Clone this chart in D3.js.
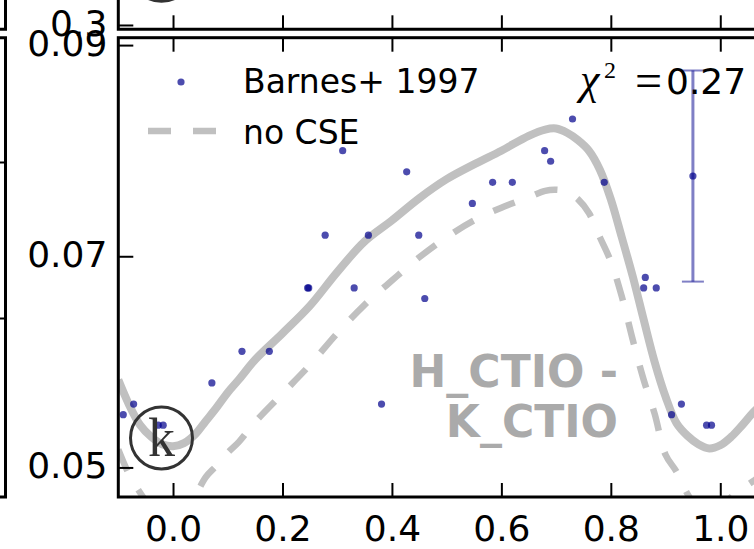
<!DOCTYPE html>
<html>
<head>
<meta charset="utf-8">
<script src="https://cdn.jsdelivr.net/npm/d3@7"></script>
<style>
  body { margin: 0; background: #fff; }
  svg { display: block; }
  .axis text { font-family: "DejaVu Sans"; font-size: 36px; fill: #000; }
  .axis line { stroke: #000; stroke-width: 2; }
  .axis path { display: none; }
</style>
</head>
<body>
<svg id="chart"></svg>
<script>
// observed colours (Barnes+ 1997)
const obsPhase = [-0.091, -0.072, -0.027, -0.018, 0.071, 0.126, 0.176, 0.246, 0.248, 0.278, 0.310,
  0.331, 0.357, 0.381, 0.427, 0.449, 0.460, 0.547, 0.584, 0.620, 0.679, 0.690, 0.730, 0.788,
  0.863, 0.860, 0.883, 0.911, 0.929, 0.975, 0.984];
const obsColor = [0.055, 0.056, 0.054, 0.054, 0.058, 0.061, 0.061, 0.067, 0.067, 0.072, 0.080,
  0.067, 0.072, 0.056, 0.078, 0.072, 0.066, 0.075, 0.077, 0.077, 0.080, 0.079, 0.083, 0.077,
  0.068, 0.067, 0.067, 0.055, 0.056, 0.054, 0.054];

// typical error bar
const errPhase = [0.950];
const errColor = [0.0776];
const errSize = [0.0100];

// model curves
const modelPhase = [-0.10, -0.08, -0.06, -0.04, -0.02, 0.00, 0.02, 0.04, 0.06, 0.08, 0.10, 0.12, 0.15,
  0.20, 0.25, 0.30, 0.35, 0.40, 0.45, 0.50, 0.55, 0.60, 0.65, 0.68, 0.70, 0.72, 0.74, 0.76, 0.78,
  0.80, 0.82, 0.84, 0.86, 0.88, 0.90, 0.92, 0.94, 0.96, 0.98, 1.00, 1.02, 1.04, 1.06, 1.08, 1.10];
const modelCse = [0.0583, 0.0559, 0.0540, 0.0529, 0.0522, 0.0520, 0.0523, 0.0531, 0.0544, 0.0557, 0.0571,
  0.0583, 0.0602, 0.0627, 0.0653, 0.0685, 0.0714, 0.0734, 0.0755, 0.0773, 0.0787, 0.0800, 0.0814,
  0.0820, 0.0821, 0.0817, 0.0810, 0.0800, 0.0782, 0.0754, 0.0718, 0.0681, 0.0640, 0.0600, 0.0567,
  0.0542, 0.0530, 0.0522, 0.0518, 0.0521, 0.0529, 0.0540, 0.0552, 0.0562, 0.0572];
const modelNoCse = [0.0517, 0.0493, 0.0476, 0.0462, 0.0454, 0.0452, 0.0460, 0.0473, 0.0491, 0.0502, 0.0514,
  0.0524, 0.0543, 0.0570, 0.0597, 0.0627, 0.0654, 0.0677, 0.0699, 0.0718, 0.0734, 0.0746, 0.0756,
  0.0762, 0.0763, 0.0761, 0.0754, 0.0741, 0.0718, 0.0695, 0.0662, 0.0621, 0.0583, 0.0551, 0.0512,
  0.0496, 0.0475, 0.0460, 0.0452, 0.0460, 0.0472, 0.0480, 0.0487, 0.0495, 0.0501];

const xTicks = [0.0, 0.2, 0.4, 0.6, 0.8, 1.0];
const yTicks = [0.05, 0.07, 0.09];
const topYTicks = [0.3];
const neighbourTicks = [1, 2];

const chiText = "0.27";
const bandLabel = ["H_CTIO -", "K_CTIO"];

const W = 754, H = 549;
const LEFT = 118.3, TOP = 37.7, BOTTOM = 497, RIGHT = 775; // main panel frame
const TOP_PANEL_BOTTOM = 29.3; // panel above
const NEIGH_RIGHT = 5.5; // panel on the left
const BLUE = "#00008b";
const SILVER = "#c0c0c0";

const svg = d3.select("#chart").attr("width", W).attr("height", H);

const x = d3.scaleLinear().domain([-0.1, 1.1]).range([LEFT, RIGHT]);
const y = d3.scaleLinear().domain([0.0472, 0.0907]).range([BOTTOM, TOP]);
const topY = d3.scaleLinear().domain([0.2953, 0.7953]).range([TOP_PANEL_BOTTOM, TOP_PANEL_BOTTOM - 459]);
const neighY = d3.scaleLinear().domain([0, 3]).range([474, 6]);

svg.append("defs").append("clipPath").attr("id", "plotclip")
  .append("rect").attr("x", LEFT).attr("y", TOP)
  .attr("width", RIGHT - LEFT).attr("height", BOTTOM - TOP);

const plot = svg.append("g").attr("clip-path", "url(#plotclip)");

// model curves
const lineCse = d3.line().x((d, i) => x(modelPhase[i])).y(d => y(d)).curve(d3.curveCatmullRom.alpha(0.5));
plot.append("path").datum(modelCse)
  .attr("d", lineCse).attr("fill", "none")
  .attr("stroke", SILVER).attr("stroke-width", 8);
plot.append("path").datum(modelNoCse)
  .attr("d", lineCse).attr("fill", "none")
  .attr("stroke", SILVER).attr("stroke-width", 6.5)
  .attr("stroke-dasharray", "23,22");

// data points
plot.selectAll(".obs")
  .data(obsPhase)
  .enter().append("circle")
  .attr("class", "obs")
  .attr("cx", d => x(d))
  .attr("cy", (d, i) => y(obsColor[i]))
  .attr("r", 3.6)
  .attr("fill", BLUE).attr("fill-opacity", 0.7);

// error bar
errPhase.forEach((p, i) => {
  const g = plot.append("g").attr("stroke", BLUE).attr("stroke-opacity", 0.5).attr("stroke-width", 3);
  g.append("line").attr("x1", x(p)).attr("x2", x(p))
    .attr("y1", y(errColor[i] - errSize[i])).attr("y2", y(errColor[i] + errSize[i]));
  [errColor[i] - errSize[i], errColor[i] + errSize[i]].forEach(v => {
    g.append("line").attr("x1", x(p) - 11).attr("x2", x(p) + 11)
      .attr("y1", y(v)).attr("y2", y(v)).attr("stroke-width", 2);
  });
  plot.append("circle").attr("cx", x(p)).attr("cy", y(errColor[i])).attr("r", 3.6)
    .attr("fill", BLUE).attr("fill-opacity", 0.7);
});

// axes of main panel
svg.append("g").attr("class", "axis")
  .attr("transform", "translate(" + LEFT + ",0)")
  .call(d3.axisLeft(y).tickValues(yTicks).tickSize(-15).tickPadding(11).tickFormat(d3.format(".2f")))
  .selectAll("text").attr("dy", "0.29em");

svg.append("g").attr("class", "axis")
  .attr("transform", "translate(0," + BOTTOM + ")")
  .call(d3.axisBottom(x).tickValues(xTicks).tickSize(-14).tickPadding(18).tickFormat(d3.format(".1f")));

svg.append("g").attr("class", "axis")
  .attr("transform", "translate(0," + TOP + ")")
  .call(d3.axisTop(x).tickValues(xTicks).tickSize(-14).tickFormat(""));

// panel above
svg.append("g").attr("class", "axis")
  .attr("transform", "translate(0," + TOP_PANEL_BOTTOM + ")")
  .call(d3.axisBottom(x).tickValues(xTicks).tickSize(-14).tickFormat(""));
svg.append("g").attr("class", "axis")
  .attr("transform", "translate(" + LEFT + ",0)")
  .call(d3.axisLeft(topY).tickValues(topYTicks).tickSize(-15).tickPadding(11).tickFormat(d3.format(".1f")))
  .selectAll("text").attr("dy", "0.29em");

// panel on the left (right-side ticks)
svg.append("g").attr("class", "axis")
  .attr("transform", "translate(" + NEIGH_RIGHT + ",0)")
  .call(d3.axisRight(neighY).tickValues(neighbourTicks).tickSize(-6).tickFormat(""));

// spines
const spines = svg.append("g").attr("stroke", "#000").attr("stroke-width", 3).attr("fill", "none");
spines.append("rect").attr("x", LEFT).attr("y", TOP).attr("width", RIGHT - LEFT).attr("height", BOTTOM - TOP);
spines.append("polyline").attr("points", [[LEFT, 0], [LEFT, TOP_PANEL_BOTTOM], [W + 5, TOP_PANEL_BOTTOM]].join(" "));
spines.append("polyline").attr("points", [[-5, TOP_PANEL_BOTTOM], [NEIGH_RIGHT, TOP_PANEL_BOTTOM], [NEIGH_RIGHT, 0]].join(" "));
spines.append("polyline").attr("points", [[-5, TOP], [NEIGH_RIGHT, TOP], [NEIGH_RIGHT, BOTTOM], [-5, BOTTOM]].join(" "));

// circled panel letter (this panel and the one above)
const circ = svg.append("g");
[[161.5, 438], [161.5, TOP_PANEL_BOTTOM - 59]].forEach(c => {
  circ.append("circle").attr("cx", c[0]).attr("cy", c[1]).attr("r", 31)
    .attr("fill", "none").attr("stroke", "#333").attr("stroke-width", 3);
});
circ.append("text").attr("x", 161.5).attr("y", 456)
  .attr("text-anchor", "middle")
  .style("font-family", "Liberation Serif").style("font-size", "54px").attr("fill", "#333")
  .text("k");

// band label
const band = svg.append("text")
  .attr("text-anchor", "end")
  .style("font-family", "DejaVu Sans").style("font-weight", "bold").style("font-size", "44px")
  .attr("fill", "#aaaaaa");
bandLabel.forEach((s, i) => {
  band.append("tspan").attr("x", 618).attr("y", 387 + i * 50).text(s);
});

// chi^2 annotation
const chi = svg.append("g");
chi.append("text").attr("x", 580).attr("y", 94)
  .style("font-family", "Liberation Serif").style("font-style", "italic").style("font-size", "44px")
  .text("\u03c7");
chi.append("text").attr("x", 604).attr("y", 78)
  .style("font-family", "Liberation Serif").style("font-size", "24px")
  .text("2");
chi.append("text").attr("x", 635).attr("y", 97)
  .style("font-family", "Liberation Serif").style("font-size", "48px")
  .text("=");
chi.append("text").attr("x", 666).attr("y", 94)
  .style("font-family", "DejaVu Sans").style("font-size", "36px")
  .text(chiText);

// legend
const legend = svg.append("g").style("font-family", "DejaVu Sans").style("font-size", "33px");
legend.append("circle").attr("cx", 181).attr("cy", 82).attr("r", 3.6)
  .attr("fill", BLUE).attr("fill-opacity", 0.7);
legend.append("text").attr("x", 243).attr("y", 93).text("Barnes+ 1997");
legend.append("line").attr("x1", 148).attr("x2", 216).attr("y1", 131).attr("y2", 131)
  .attr("stroke", SILVER).attr("stroke-width", 6.5).attr("stroke-dasharray", "23,22");
legend.append("text").attr("x", 243).attr("y", 143.5).text("no CSE");
</script>
</body>
</html>
